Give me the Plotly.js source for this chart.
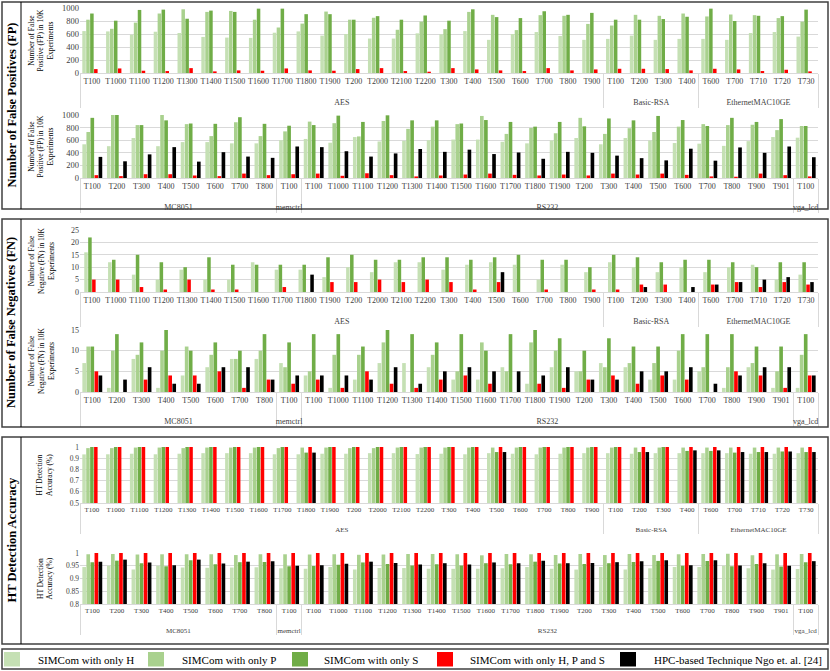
<!DOCTYPE html>
<html>
<head>
<meta charset="utf-8">
<script src="https://cdn.plot.ly/plotly-3.0.1.min.js"></script>
<style>
html, body { margin: 0; padding: 0; background: #fff; }
#chart { width: 830px; height: 671px; }
</style>
</head>
<body>
<div id="chart"></div>
<script>
// trojan names per benchmark
var aesTrojans = ['T100','T1000','T1100','T1200','T1300','T1400','T1500','T1600','T1700','T1800','T1900','T200','T2000','T2100','T2200','T300','T400','T500','T600','T700','T800','T900'];
var rsaTrojans = ['T100','T200','T300','T400'];
var ethTrojans = ['T600','T700','T710','T720','T730'];
var mcTrojans = ['T100','T200','T300','T400','T500','T600','T700','T800'];
var memTrojans = ['T100'];
var rs232Trojans = ['T100','T1000','T1100','T1200','T1300','T1400','T1500','T1600','T1700','T1800','T1900','T200','T300','T400','T500','T600','T700','T800','T900','T901'];
var vgaTrojans = ['T100'];

var seriesNames = ['SIMCom with only H', 'SIMCom with only P', 'SIMCom with only S', 'SIMCom with only H, P and S', 'HPC-based Technique Ngo et. al. [24]'];
var seriesColors = ['#C5E0B4', '#A9D18E', '#70AD47', '#FF0000', '#000000'];

// false positives, top row (AES | Basic-RSA | EthernetMAC10GE)
var fp1H   = [645,640,590,635,615,555,545,540,620,640,575,600,530,530,610,595,645,510,600,630,570,510, 525,575,510,525, 525,510,615,630,560];
var fp1P   = [820,680,775,915,980,940,955,820,700,760,945,820,850,665,790,675,940,895,660,890,880,755, 730,895,880,915, 870,900,890,845,790];
var fp1S   = [915,805,970,975,835,960,940,990,990,905,905,820,875,820,885,805,980,860,845,950,895,925, 820,820,830,865, 990,800,880,875,975];
var fp1HPS = [60,70,35,30,75,25,40,35,70,40,35,60,75,30,20,75,55,40,30,75,40,55, 65,65,60,40, 65,55,30,50,25];
var fp1HPC = [0,0,0,0,0,0,0,0,0,0,0,0,0,0,0,0,0,0,0,0,0,0, 0,0,0,0, 0,0,0,0,0];

// false positives, bottom row (MC8051 | memctrl | RS232 | vga_lcd)
var fp2H   = [535,505,635,505,570,570,550,550, 600, 620,560,650,580,590,600,610,610,575,550,595,635,535,635,595,555,545,510,585,650, 640];
var fp2P   = [730,1000,840,1000,855,665,885,665, 740, 895,870,660,905,780,815,855,985,700,795,710,955,700,790,730,815,855,840,845,760, 825];
var fp2S   = [955,1000,840,915,865,860,965,860, 830, 840,990,890,995,915,915,865,920,890,815,890,820,945,915,985,920,825,955,890,935, 825];
var fp2HPS = [45,30,60,60,40,30,70,45, 60, 70,35,75,45,25,40,55,70,50,40,55,40,70,55,70,50,25,20,70,45, 25];
var fp2HPC = [335,265,375,490,260,410,340,320, 500, 490,425,340,390,460,415,450,380,405,305,415,400,355,315,280,465,275,485,400,500, 330];

// false negatives, top row (no P series in this chart)
var fn1H   = [16,12,7,5,9,5,5,12,9,9,6,10,8,12,12,9,11,12,11,5,11,8, 12,10,8,10, 8,10,11,5,7];
var fn1S   = [22,13,15,12,10,14,11,11,11,11,14,15,13,13,14,14,13,14,15,13,13,10, 15,14,12,13, 13,12,10,12,12];
var fn1HPS = [5,5,2,1,5,1,1,0,2,0,4,4,5,4,5,4,1,4,0,1,0,1, 1,3,3,0, 3,4,2,4,3];
var fn1HPC = [0,0,0,0,0,0,0,0,0,7,0,0,0,0,0,0,0,8,0,0,0,0, 0,2,0,2, 3,4,5,6,4];

// false negatives, bottom row
var fn2H   = [7,1,8,1,4,6,8,8, 7, 4,1,3,7,7,6,3,3,6,2,6,5,7,6,3,3,5,1,6,1, 1];
var fn2P   = [11,10,9,10,11,9,8,10, 6, 5,9,9,12,0,9,5,12,5,12,10,5,6,7,7,10,6,6,7,5, 9];
var fn2S   = [11,14,12,15,10,12,10,14, 12, 14,14,11,15,14,12,14,10,14,15,13,10,13,11,11,14,14,14,11,11, 14];
var fn2HPS = [5,0,3,4,4,5,1,3, 2, 3,1,5,2,1,3,4,2,0,2,1,3,4,2,4,3,0,5,4,1, 4];
var fn2HPC = [4,3,6,2,2,6,6,3, 4, 4,4,3,6,2,5,6,5,5,4,6,3,3,5,5,6,2,4,6,6, 4];

// detection accuracy, top row
var acc1H   = [0.934,0.935,0.94,0.935,0.94,0.945,0.945,0.945,0.935,0.935,0.94,0.94,0.945,0.945,0.937,0.94,0.935,0.945,0.94,0.935,0.94,0.945, 0.945,0.94,0.945,0.945, 0.945,0.945,0.94,0.94,0.945];
var acc1P   = [0.99,0.99,0.995,0.995,0.99,0.995,0.995,0.995,0.99,0.995,0.995,0.99,0.99,0.995,0.995,0.995,0.995,0.995,0.995,0.995,0.995,0.995, 0.995,0.995,0.995,0.995, 0.995,0.995,0.995,0.995,0.995];
var acc1S   = [1,1,1,1,1,1,1,1,1,0.95,1,1,1,1,1,1,1,0.955,1,1,1,1, 1,0.955,1,0.965, 0.965,0.95,0.955,0.96,0.955];
var acc1HPS = [1,1,1,1,1,1,1,1,1,1,1,1,1,1,1,1,1,1,1,1,1,1, 1,1,1,1, 1,1,1,1,1];
var acc1HPC = [0,0,0,0,0,0,0,0,0,0.95,0,0,0,0,0,0,0,0.955,0,0,0,0, 0,0.955,0,0.97, 0.97,0.955,0.955,0.96,0.955];

// detection accuracy, bottom row
var acc2H   = [0.945,0.95,0.935,0.95,0.943,0.942,0.943,0.944, 0.94, 0.938,0.945,0.935,0.941,0.941,0.938,0.938,0.938,0.94,0.945,0.938,0.935,0.945,0.935,0.94,0.945,0.945,0.95,0.94,0.935, 0.937];
var acc2P   = [0.995,0.996,0.994,0.995,0.995,0.995,0.992,0.995, 0.995, 0.994,0.995,0.993,0.994,0.996,0.996,0.995,0.991,0.996,0.995,0.992,0.996,0.992,0.996,0.992,0.995,0.996,0.997,0.991,0.995, 0.996];
var acc2S   = [0.964,0.97,0.96,0.948,0.972,0.956,0.964,0.965, 0.948, 0.949,0.954,0.963,0.957,0.951,0.956,0.951,0.96,0.956,0.966,0.959,0.957,0.96,0.965,0.969,0.95,0.969,0.948,0.957,0.947, 0.964];
var acc2HPS = [1,1,1,1,1,1,1,1, 1, 1,1,1,1,1,1,1,1,1,1,1,1,1,1,1,1,1,1,1,1, 1];
var acc2HPC = [0.966,0.974,0.963,0.952,0.974,0.959,0.966,0.968, 0.95, 0.952,0.958,0.966,0.961,0.955,0.96,0.955,0.963,0.96,0.97,0.96,0.961,0.964,0.968,0.972,0.952,0.972,0.951,0.96,0.95, 0.968];

function px(x) { return x / 830; }
function py(y) { return 1 - y / 671; }

// builds [outer, inner] label arrays; the '<br>' pushes the group name one line lower
function multiCat(groups) {
  var outer = [], inner = [];
  groups.forEach(function (g) {
    g[1].forEach(function (t) { outer.push('<br>' + g[0]); inner.push(t); });
  });
  return [outer, inner];
}
var xTop = multiCat([['AES', aesTrojans], ['Basic-RSA', rsaTrojans], ['EthernetMAC10GE', ethTrojans]]);
var xBot = multiCat([['MC8051', mcTrojans], ['memctrl', memTrojans], ['RS232', rs232Trojans], ['vga_lcd', vgaTrojans]]);

// plotly orders inner labels of a multicategory axis by first appearance,
// so feed the bottom row in RS232 label order (the other groups are subsequences of it)
function feedOrder(xcat, rankList) {
  var idx = xcat[1].map(function (_, i) { return i; });
  var grp = [];
  xcat[0].forEach(function (g) { if (grp.indexOf(g) < 0) grp.push(g); });
  idx.sort(function (a, b) {
    var d = rankList.indexOf(xcat[1][a]) - rankList.indexOf(xcat[1][b]);
    return d || (grp.indexOf(xcat[0][a]) - grp.indexOf(xcat[0][b]));
  });
  return idx;
}
var topOrder = xTop[1].map(function (_, i) { return i; });
var botOrder = feedOrder(xBot, rs232Trojans);

function pick(arr, order) { return order.map(function (i) { return arr[i]; }); }

var data = [];
// list: [values, series index]
function addBars(ax, ay, xcat, order, list) {
  var n = list.length, slot = 0.165, w = 0.148;
  var xs = [pick(xcat[0], order), pick(xcat[1], order)];
  list.forEach(function (s, i) {
    data.push({
      type: 'bar', x: xs, y: pick(s[0], order), xaxis: ax, yaxis: ay,
      name: seriesNames[s[1]],
      width: w, offset: -n * slot / 2 + i * slot + (slot - w) / 2,
      marker: { color: seriesColors[s[1]] },
      showlegend: false
    });
  });
}

addBars('x', 'y', xTop, topOrder, [[fp1H,0],[fp1P,1],[fp1S,2],[fp1HPS,3],[fp1HPC,4]]);
addBars('x2', 'y2', xBot, botOrder, [[fp2H,0],[fp2P,1],[fp2S,2],[fp2HPS,3],[fp2HPC,4]]);
addBars('x3', 'y3', xTop, topOrder, [[fn1H,0],[fn1S,2],[fn1HPS,3],[fn1HPC,4]]);
addBars('x4', 'y4', xBot, botOrder, [[fn2H,0],[fn2P,1],[fn2S,2],[fn2HPS,3],[fn2HPC,4]]);
addBars('x5', 'y5', xTop, topOrder, [[acc1H,0],[acc1P,1],[acc1S,2],[acc1HPS,3],[acc1HPC,4]]);
addBars('x6', 'y6', xBot, botOrder, [[acc2H,0],[acc2P,1],[acc2S,2],[acc2HPS,3],[acc2HPC,4]]);

var serif = 'Liberation Serif, Times New Roman, serif';
function xax(anchor, fs) {
  return {
    type: 'multicategory', anchor: anchor, domain: [px(80), px(818)],
    showline: true, linecolor: '#d9d9d9', linewidth: 1, showgrid: false,
    showdividers: true, dividercolor: '#d9d9d9', dividerwidth: 1,
    ticks: '', tickangle: 0, fixedrange: true,
    tickfont: { family: serif, size: fs, color: '#404040' }
  };
}
function yax(anchor, top, bottom, range, dtick, fs) {
  return {
    anchor: anchor, domain: [py(bottom), py(top)], range: range, dtick: dtick,
    showgrid: true, gridcolor: '#d9d9d9', gridwidth: 1, zeroline: false,
    showline: false, ticks: '', fixedrange: true,
    tickfont: { family: serif, size: fs, color: '#404040' }
  };
}

var fpTitle = 'Number of False<br>Positive (FP) in 10K<br>Experiments';
var fnTitle = 'Number of False<br>Negative (FN) in 10K<br>Experiments';
var accTitle = 'HT Detection<br>Accuracy (%)';

var annotations = [];
function rotText(text, x, y, size, bold) {
  annotations.push({
    text: bold ? '<b>' + text + '</b>' : text, xref: 'paper', yref: 'paper',
    x: px(x), y: py(y), xanchor: 'center', yanchor: 'middle', textangle: -90,
    showarrow: false, font: { family: serif, size: size, color: '#000' }
  });
}
rotText('Number of False Positives (FP)', 11, 105.5, 12.5, true);
rotText('Number of False Negatives (FN)', 11, 323, 12.5, true);
rotText('HT Detection Accuracy', 11, 540.5, 12.5, true);
rotText(fpTitle, 41, 40.5, 7.5, false);
rotText(fpTitle, 41, 146.5, 7.5, false);
rotText(fnTitle, 41, 261, 7.5, false);
rotText(fnTitle, 41, 361, 7.5, false);
rotText(accTitle, 45, 475, 7.5, false);
rotText(accTitle, 45, 578.5, 7.5, false);

var shapes = [];
function box(x0, y0, x1, y1, lineColor, width, fill) {
  shapes.push({
    type: 'rect', xref: 'paper', yref: 'paper',
    x0: px(x0), x1: px(x1), y0: py(y1), y1: py(y0),
    line: { color: lineColor, width: width }, fillcolor: fill || 'rgba(0,0,0,0)'
  });
}
function vline(x, y0, y1) {
  shapes.push({
    type: 'line', xref: 'paper', yref: 'paper',
    x0: px(x), x1: px(x), y0: py(y1), y1: py(y0),
    line: { color: '#000', width: 1 }
  });
}
// panel frames
box(2, 2, 828, 209, '#404040', 1.5);
box(2, 219, 828, 427, '#404040', 1.5);
box(2, 437, 828, 644, '#404040', 1.5);
vline(21, 2, 209);
vline(21, 219, 427);
vline(21, 437, 644);

// legend row
box(2, 649, 828, 669, '#404040', 1.5);
var legendSwatchX = [4, 148, 292, 437, 620];
var legendTextX = [36, 180, 322, 468, 652];
seriesNames.forEach(function (name, i) {
  box(legendSwatchX[i], 652, legendSwatchX[i] + 16, 666.5, seriesColors[i], 0, seriesColors[i]);
  annotations.push({
    text: name, xref: 'paper', yref: 'paper', x: px(legendTextX[i]), y: py(659.5),
    xanchor: 'left', yanchor: 'middle', showarrow: false,
    font: { family: serif, size: 11, color: '#000' }
  });
});

var layout = {
  width: 830, height: 671,
  margin: { l: 0, r: 0, t: 0, b: 0 },
  paper_bgcolor: '#fff', plot_bgcolor: '#fff',
  showlegend: false, barmode: 'group',
  xaxis: xax('y', 8), xaxis2: xax('y2', 8), xaxis3: xax('y3', 8),
  xaxis4: xax('y4', 8), xaxis5: xax('y5', 7), xaxis6: xax('y6', 7),
  yaxis: yax('x', 8, 73, [0, 1000], 200, 8.5),
  yaxis2: yax('x2', 115, 178, [0, 1000], 200, 8.5),
  yaxis3: yax('x3', 230, 292, [0, 25], 5, 8),
  yaxis4: yax('x4', 330, 392, [0, 15], 5, 8),
  yaxis5: yax('x5', 447, 503, [0.5, 1], 0.1, 7.5),
  yaxis6: yax('x6', 553, 604, [0.8, 1], 0.05, 7.5),
  annotations: annotations,
  shapes: shapes
};

Plotly.newPlot('chart', data, layout, { displayModeBar: false, staticPlot: true });
</script>
</body>
</html>
